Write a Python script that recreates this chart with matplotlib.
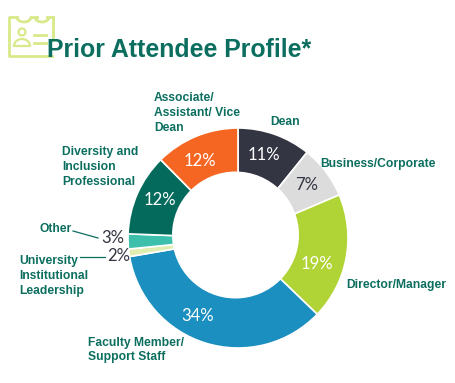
from matplotlib import pyplot as plt
from matplotlib.patches import Arc, Circle

# valeurs, dans le sens horaire depuis le haut
categories = ["Dean", "Business/Corporate", "Director/Manager", "Faculty Member/\nSupport Staff",
              "University\nInstitutional\nLeadership", "Other", "Diversity and\nInclusion\nProfessional",
              "Associate/\nAssistant/ Vice\nDean"]
affiches = [11, 7, 19, 34, 2, 3, 12, 12]   # ce qui est ecrit
valeurs = [10.8, 7.8, 18.6, 35.1, 1.1, 2.2, 12.0, 12.4]   # taille mesuree des parts
couleurs = ["#333542", "#dcdcdc", "#b0d335", "#1a8fc0", "#e0edb0", "#3cc0ac", "#046a5c", "#f56623"]
explode = [0, 0.035, 0, 0, 0, 0, 0, 0]
titre = "Prior Attendee Profile*"

VERT = "#0b6e5f"
ICONE = "#d8e98a"
H = 383

plt.rcParams['font.family'] = ['Liberation Sans', 'DejaVu Sans']

fig = plt.figure(figsize=(4.55, 3.83), dpi=100)
ax = fig.add_axes([0, 0, 1, 1])

wedges, _ = ax.pie(valeurs, colors=couleurs, startangle=90, counterclock=False, explode=explode,
                   center=(238, H-238), radius=110,
                   wedgeprops={'edgecolor': 'white', 'linewidth': 1.2})
# le trou n'est pas tout a fait centre sur l'image
ax.add_patch(Circle((235.5, H-235), 63.5, facecolor='white', edgecolor='none', zorder=5))
ax.set_xlim(0, 455)
ax.set_ylim(0, H)
ax.set_aspect('equal')
ax.axis('off')

# pourcentages (position en pixels de l'image)
pct = [(264, 155, 'white'), (307, 185, '#333542'), (317, 264, 'white'), (198, 316, 'white'),
       (119, 256, '#333542'), (113, 238, '#333542'), (160, 200, 'white'), (200, 161, 'white')]
for v, (x, y, c) in zip(affiches, pct):
    ax.text(x, H-y, "%d%%" % v, color=c, fontsize=12, family=['Lato', 'DejaVu Sans'],
            ha='center', va='center', zorder=6)

# etiquettes
etiquettes = [(270, 122, 'left'), (320, 164, 'left'), (346, 285, 'left'), (88, 350, 'left'),
              (19, 276, 'left'), (39, 229, 'left'), (62, 167, 'left'), (154, 113, 'left')]
for cat, (x, y, ha) in zip(categories, etiquettes):
    ax.text(x, H-y, cat, color=VERT, fontsize=8.7, fontweight='bold', ha=ha, va='center', linespacing=1.3)

# traits de rappel
ax.plot([73, 98], [H-231, H-238], color=VERT, lw=0.9)
ax.plot([80, 105], [H-257, H-257], color=VERT, lw=0.9)

# icone du badge
lw = 2
ax.plot([9, 9, 17], [H-39, H-17, H-17], color=ICONE, lw=lw)
ax.plot([9, 9, 52], [H-39, H-56, H-56], color=ICONE, lw=lw)
ax.plot([53, 53], [H-17, H-40], color=ICONE, lw=lw)
ax.plot([31, 37], [H-17, H-17], color=ICONE, lw=lw)
ax.plot([47, 53], [H-17, H-17], color=ICONE, lw=lw)
ax.add_patch(Arc((24, H-17), 14, 10, theta1=180, theta2=360, color=ICONE, lw=lw))
ax.add_patch(Arc((42, H-17), 14, 10, theta1=180, theta2=360, color=ICONE, lw=lw))
ax.add_patch(Circle((22, H-32), 3.5, fill=False, edgecolor=ICONE, lw=1.6))
ax.add_patch(Arc((22, H-46), 16, 14, theta1=0, theta2=180, color=ICONE, lw=1.6))
ax.plot([14, 30], [H-46, H-46], color=ICONE, lw=1.6)
ax.plot([34, 46], [H-35, H-35], color=ICONE, lw=lw)
ax.plot([34, 46], [H-43, H-43], color=ICONE, lw=lw)

ax.text(47, H-50, titre, color=VERT, fontsize=17.95, fontweight='bold', ha='left', va='center')

fig.savefig("out.png", dpi=100)
